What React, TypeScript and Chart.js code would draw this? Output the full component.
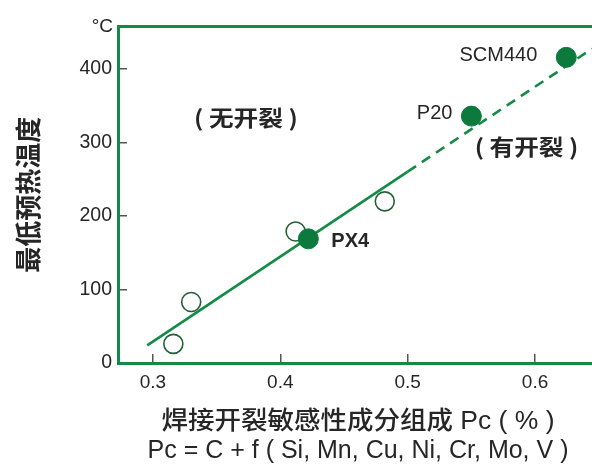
import React, { useEffect, useRef } from 'react';
import { Chart, registerables } from 'chart.js';

Chart.register(...registerables);

// ---- data ----
const openX = [0.316, 0.33, 0.412, 0.482];
const openY = [26, 83, 179, 220];
const steelX = [0.422, 0.55, 0.6245];
const steelY = [169, 336, 416];
const steelNames = ['PX4', 'P20', 'SCM440'];
const trendX = [0.2955, 0.5, 0.6447];
const trendY = [24, 260.5, 427.6];
const xTicks = [0.3, 0.4, 0.5, 0.6];
const yTicks = [0, 100, 200, 300, 400];
const regionLabels = ['( 无开裂 )', '( 有开裂 )'];
const regionX = [0.373, 0.5933];
const regionY = [334, 294];
const xTitle = ['焊接开裂敏感性成分组成 Pc ( % )', 'Pc = C + f ( Si, Mn, Cu, Ni, Cr, Mo, V )'];
const yTitle = '最低预热温度';
const yUnit = '°C';

const FONT = '"Liberation Sans", Arial, "Noto Sans CJK SC", sans-serif';
const CJK = '"Noto Sans CJK SC", "Liberation Sans", sans-serif';
const GREEN = '#138a45';
const DOT = '#0c7a3c';
const TEXT = '#262626';

const labelPlugin = {
  id: 'customLabels',
  afterDatasetsDraw(chart: any) {
    const { ctx, scales, chartArea } = chart;
    const x = scales.x;
    const y = scales.y;
    ctx.save();
    ctx.fillStyle = TEXT;
    ctx.textBaseline = 'middle';

    // unit
    ctx.font = `19px ${FONT}`;
    ctx.textAlign = 'right';
    ctx.fillText(yUnit, chartArea.left - 5, chartArea.top);

    // steel labels
    const place = [
      { align: 'left', dx: 23, dy: 3, bold: true },
      { align: 'right', dx: -19, dy: -3, bold: false },
      { align: 'right', dx: -29, dy: -2, bold: false },
    ];
    steelNames.forEach((name, i) => {
      const p = place[i];
      ctx.font = `${p.bold ? 'bold ' : ''}20px ${FONT}`;
      ctx.textAlign = p.align;
      ctx.fillText(name, x.getPixelForValue(steelX[i]) + p.dx, y.getPixelForValue(steelY[i]) + p.dy);
    });

    // region labels (slightly wide, bold)
    ctx.font = `bold 22px ${CJK}`;
    ctx.textAlign = 'center';
    regionLabels.forEach((t, i) => {
      ctx.save();
      ctx.translate(x.getPixelForValue(regionX[i]), y.getPixelForValue(regionY[i]));
      ctx.scale(1.12, 1);
      ctx.fillText(t, 0, 0);
      ctx.restore();
    });

    // x axis title (two lines)
    const cx = (chartArea.left + chartArea.right) / 2 + 3;
    ctx.textAlign = 'center';
    ctx.save();
    ctx.translate(cx, chartArea.bottom + 59);
    ctx.scale(1.06, 1);
    ctx.font = `500 25px ${FONT}`;
    ctx.fillText(xTitle[0], 0, 0);
    ctx.restore();
    ctx.font = `25px ${FONT}`;
    ctx.fillText(xTitle[1], cx, chartArea.bottom + 88);
    ctx.restore();
  },
};

export default function App() {
  const ref = useRef<HTMLCanvasElement | null>(null);

  useEffect(() => {
    if (!ref.current) return;
    const xMin = 0.27255;
    const xMax = 0.6447;
    const chart = new Chart(ref.current, {
      type: 'scatter',
      data: {
        datasets: [
          {
            label: 'steels',
            data: steelX.map((v, i) => ({ x: v, y: steelY[i] })),
            pointRadius: 10,
            pointHoverRadius: 10,
            pointBackgroundColor: DOT,
            pointBorderColor: DOT,
            pointBorderWidth: 1,
          },
          {
            label: 'tests',
            data: openX.map((v, i) => ({ x: v, y: openY[i] })),
            pointRadius: 9.5,
            pointHoverRadius: 9.5,
            pointBackgroundColor: 'rgba(255,255,255,0)',
            pointBorderColor: '#245f3a',
            pointBorderWidth: 1.6,
          },
          {
            label: 'trend',
            data: trendX.map((v, i) => ({ x: v, y: trendY[i] })),
            showLine: true,
            pointRadius: 0,
            borderColor: GREEN,
            borderWidth: 2.6,
            segment: {
              borderDash: (c: any) => (c.p0DataIndex >= 1 ? [10, 7] : undefined),
            },
          } as any,
        ],
      },
      options: {
        animation: false,
        responsive: false,
        events: [],
        layout: { padding: 0, autoPadding: false },
        plugins: {
          legend: { display: false },
          tooltip: { enabled: false },
          title: { display: false },
        },
        scales: {
          x: {
            type: 'linear',
            position: 'bottom',
            min: xMin,
            max: xMax,
            afterBuildTicks: (s: any) => {
              s.ticks = xTicks.map((v) => ({ value: v }));
            },
            afterFit: (s: any) => {
              s.height = 107;
            },
            ticks: {
              padding: 17,
              maxRotation: 0,
              autoSkip: false,
              color: TEXT,
              font: { family: FONT, size: 19 },
              callback: (v: any) => Number(v).toFixed(1),
            },
            grid: {
              drawOnChartArea: false,
              drawTicks: true,
              tickLength: -9,
              color: '#555',
              lineWidth: 1.5,
            },
            border: { display: true, color: GREEN, width: 3 },
          },
          x2: {
            type: 'linear',
            position: 'top',
            min: xMin,
            max: xMax,
            afterFit: (s: any) => {
              s.height = 22;
            },
            ticks: { display: false },
            grid: { display: true, drawOnChartArea: false, drawTicks: false },
            border: { display: true, color: GREEN, width: 3 },
          },
          y: {
            type: 'linear',
            position: 'left',
            min: 0,
            max: 457.7,
            afterBuildTicks: (s: any) => {
              s.ticks = yTicks.map((v) => ({ value: v }));
            },
            afterFit: (s: any) => {
              s.width = 118;
            },
            ticks: {
              padding: 15,
              color: TEXT,
              font: { family: FONT, size: 19.5 },
              callback: (v: any) => String(v),
            },
            grid: {
              drawOnChartArea: false,
              drawTicks: true,
              tickLength: -9,
              color: '#555',
              lineWidth: 1.5,
            },
            border: { display: true, color: GREEN, width: 3 },
            title: {
              display: true,
              text: yTitle,
              color: TEXT,
              font: { family: CJK, size: 26, weight: 'bold' },
              padding: { top: 13, bottom: 0 },
            },
          },
        },
      } as any,
      plugins: [labelPlugin as any],
    });
    return () => chart.destroy();
  }, []);

  return (
    <div style={{ position: 'absolute', left: 0, top: 0, width: 592, height: 470, background: '#fff' }}>
      <canvas ref={ref} width={592} height={470} style={{ display: 'block', width: 592, height: 470 }} />
    </div>
  );
}
